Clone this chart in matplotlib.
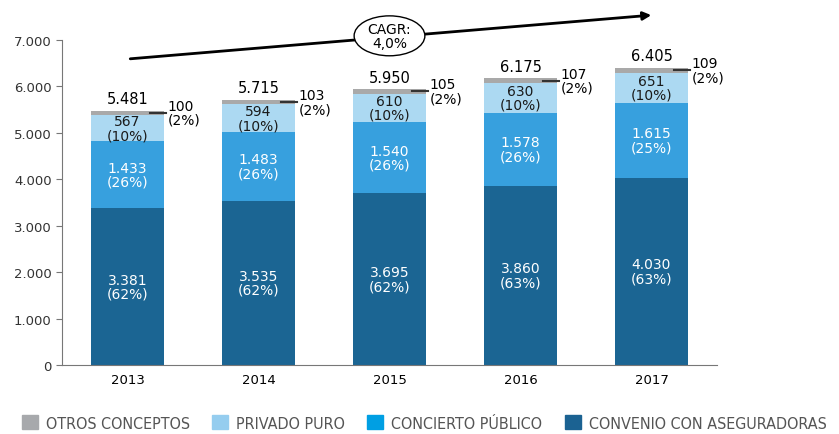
import numpy as np
import matplotlib.pyplot as plt
from matplotlib.patches import Ellipse, Patch
from matplotlib.font_manager import FontProperties

years = ['2013', '2014', '2015', '2016', '2017']
convenio = [3381, 3535, 3695, 3860, 4030]
concierto = [1433, 1483, 1540, 1578, 1615]
privado = [567, 594, 610, 630, 651]
otros = [100, 103, 105, 107, 109]
totals = [5481, 5715, 5950, 6175, 6405]
pct_convenio = [62, 62, 62, 63, 63]
pct_concierto = [26, 26, 26, 26, 25]
pct_privado = [10, 10, 10, 10, 10]
pct_otros = [2, 2, 2, 2, 2]

c_dark = '#1b6593'
c_mid = '#37a0de'
c_light = '#acd9f2'
c_gray = '#a9a9a9'

def fmt(v):
    return f"{v:,}".replace(',', '.')

fig = plt.figure(figsize=(8.39, 4.35), dpi=100)
ax = fig.add_axes([62/839, 1-366/435, 655/839, 325/435])
x = np.arange(len(years))
w = 0.55

ax.bar(x, convenio, w, color=c_dark)
ax.bar(x, concierto, w, bottom=convenio, color=c_mid)
b2 = np.array(convenio) + np.array(concierto)
ax.bar(x, privado, w, bottom=b2, color=c_light)
b3 = b2 + np.array(privado)
ax.bar(x, otros, w, bottom=b3, color=c_gray)

for i in range(len(years)):
    ax.text(x[i], convenio[i]/2, f"{fmt(convenio[i])}\n({pct_convenio[i]}%)",
            ha='center', va='center', color='white', fontsize=10, linespacing=1.0)
    ax.text(x[i], convenio[i] + concierto[i]/2, f"{fmt(concierto[i])}\n({pct_concierto[i]}%)",
            ha='center', va='center', color='white', fontsize=10, linespacing=1.0)
    ax.text(x[i], b2[i] + privado[i]/2, f"{fmt(privado[i])}\n({pct_privado[i]}%)",
            ha='center', va='center', color='#1a1a1a', fontsize=10, linespacing=1.0)
    ax.text(x[i], totals[i] + 90, fmt(totals[i]), ha='center', va='bottom',
            color='black', fontsize=10.5)
    # small leader + label for otros
    yl = b3[i] + otros[i]/2
    ax.plot([x[i] + w/2 - 0.1, x[i] + w/2 + 0.02], [yl, yl], color='#333333', lw=1.5,
            clip_on=False)
    ax.text(x[i] + w/2 + 0.03, yl, f"{otros[i]}\n({pct_otros[i]}%)", ha='left', va='center',
            color='black', fontsize=10, linespacing=1.0)

ax.set_xlim(-0.5, 4.5)
ax.set_ylim(0, 7000)
ax.set_yticks(np.arange(0, 7001, 1000))
ax.set_yticklabels([fmt(v) for v in range(0, 7001, 1000)], fontsize=9.5, color='#333333')
ax.set_xticks(x)
ax.set_xticklabels(years, fontsize=9.5, color='black')
ax.tick_params(axis='x', length=0, pad=6)
ax.tick_params(axis='y', length=4, color='#777777')
for s in ['top', 'right']:
    ax.spines[s].set_visible(False)
ax.spines['left'].set_color('#777777')
ax.spines['bottom'].set_color('#777777')

# CAGR arrow
ax.annotate('', xy=(4.02, 7540), xytext=(0.0, 6590),
            arrowprops=dict(arrowstyle='-|>', color='black', lw=2, mutation_scale=12),
            annotation_clip=False)
ell = Ellipse((2.0, 7090), 0.54, 860, facecolor='white', edgecolor='black', lw=1,
              clip_on=False, zorder=5)
ax.add_patch(ell)
ax.text(2.0, 7090, "CAGR:\n4,0%", ha='center', va='center', fontsize=10,
        linespacing=1.0, zorder=6, clip_on=False)

handles = [Patch(color='#a7a9ac'), Patch(color='#95cdef'), Patch(color='#009fe3'),
           Patch(color='#1b6292')]
labels = ['OTROS CONCEPTOS', 'PRIVADO PURO', 'CONCIERTO PÚBLICO', 'CONVENIO CON ASEGURADORAS']
lp = FontProperties(family='DejaVu Sans', stretch='condensed', size=11.5)
fig.legend(handles, labels, loc='center', bbox_to_anchor=(424/839, 1-424/435), ncol=4,
           frameon=False, handlelength=1.0, handleheight=1.0, handletextpad=0.5,
           columnspacing=1.4, prop=lp, labelcolor='#555555')

fig.savefig('out.png', dpi=100)
